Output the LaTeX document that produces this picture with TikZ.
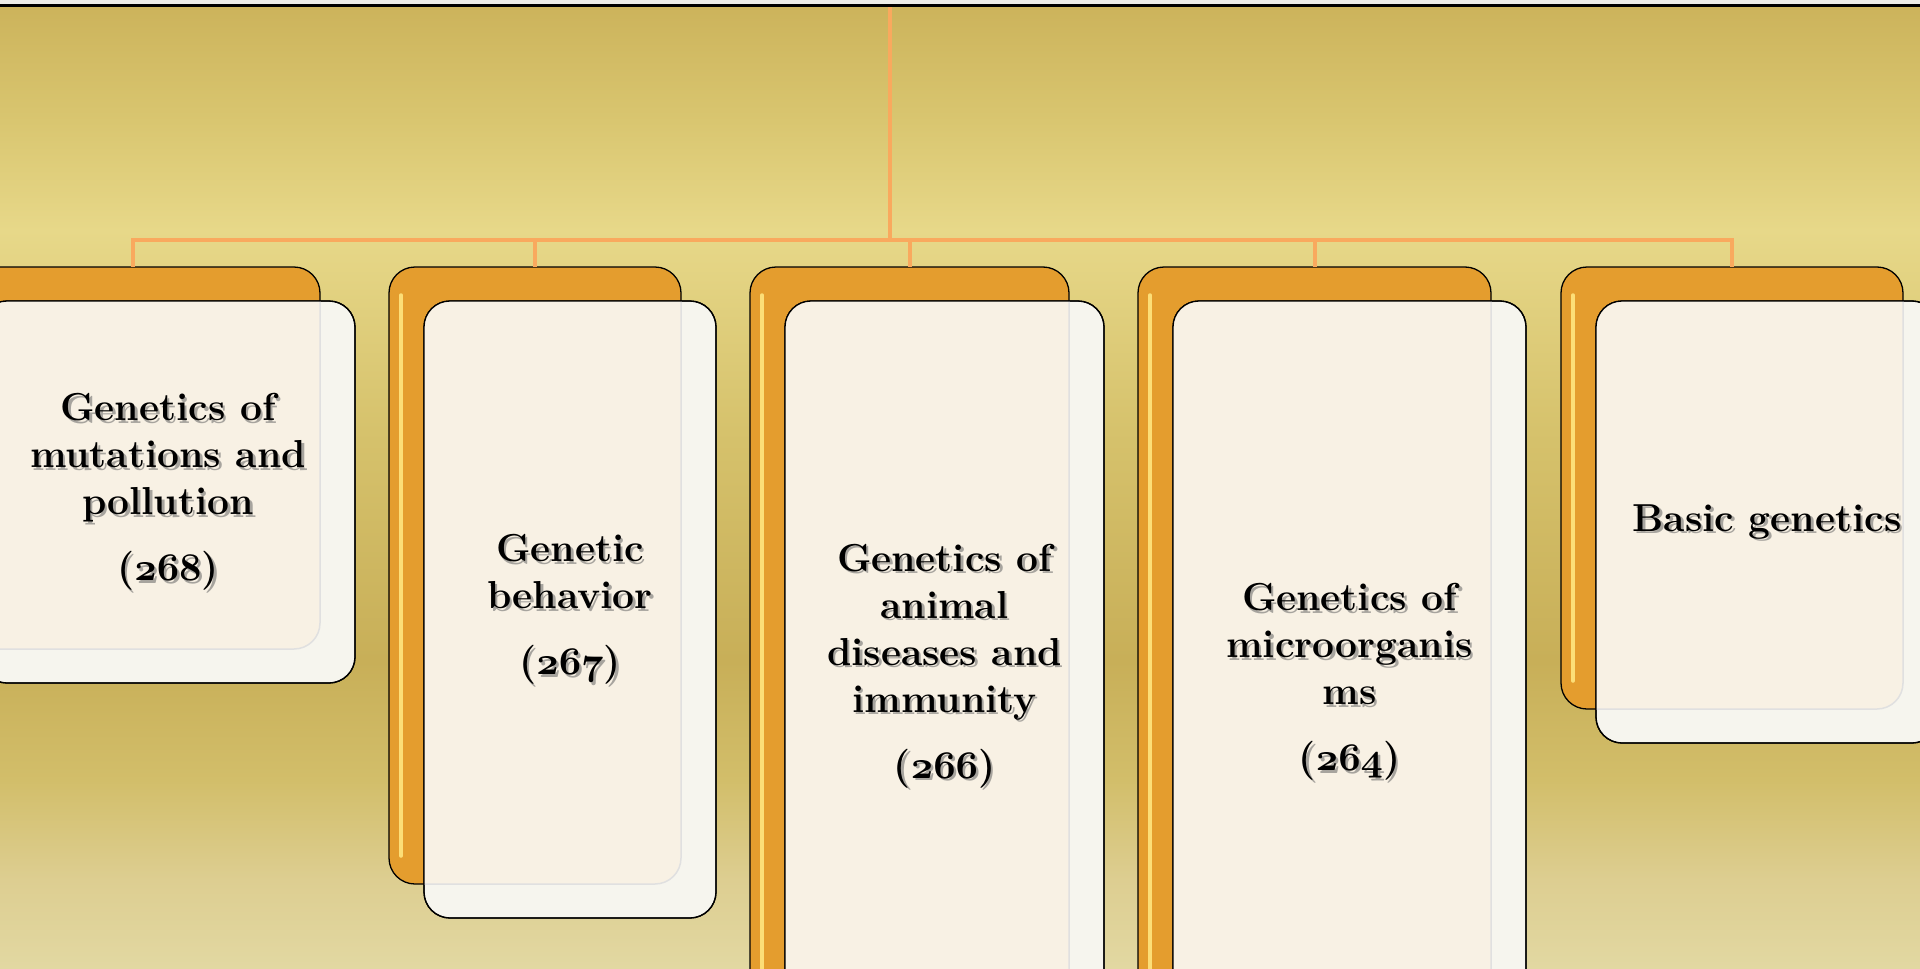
\documentclass[tikz,border=0pt]{standalone}
\usetikzlibrary{calc}
\definecolor{orangeF}{HTML}{E49D2E}
\definecolor{creamA}{HTML}{F8F1E4}
\definecolor{creamB}{HTML}{F6F5EE}
\definecolor{connc}{HTML}{F9A95E}
\definecolor{hilite}{HTML}{FFE680}
\definecolor{topband}{HTML}{EDEDE8}
\pgfdeclareverticalshading{bgshade}{100bp}{rgb(0bp)=(0.886,0.847,0.635); rgb(25bp)=(0.886,0.847,0.635); rgb(29.6bp)=(0.867,0.808,0.569); rgb(34.8bp)=(0.824,0.745,0.416); rgb(41bp)=(0.784,0.686,0.345); rgb(53bp)=(0.839,0.761,0.424); rgb(63.3bp)=(0.906,0.847,0.537); rgb(69bp)=(0.851,0.776,0.439); rgb(75bp)=(0.8,0.702,0.357); rgb(100bp)=(0.8,0.702,0.357)}
\DeclareFontFamily{OML}{cmmxb}{\skewchar\font'177}
\DeclareFontShape{OML}{cmmxb}{b}{it}{<->cmmib10}{}
\newcommand\osnum[1]{{\usefont{OML}{cmmxb}{b}{it}#1}}
\tikzset{
  backbox/.style={draw=black, line width=1.3pt, fill=orangeF, rounded corners=26pt, inner sep=0pt, outer sep=0pt},
  frontbox/.style={draw=black, line width=1.3pt, fill=creamB, rounded corners=26pt, inner sep=0pt, outer sep=0pt},
  lbl/.style={align=center, font=\fontsize{39}{47}\selectfont\bfseries, text=black, inner sep=0pt},
  lblshadow/.style={lbl, text=black!60, opacity=0.55},
  connline/.style={draw=connc, line width=4pt},
  gloss/.style={draw=hilite, line width=3.5pt, line cap=round, opacity=0.9},
  ghost/.style={draw=black!12, line width=1.5pt, rounded corners=26pt},
  frontedge/.style={draw=black, line width=1.3pt, rounded corners=26pt},
}
\newcommand\drawunit[6]{%
  \node[backbox, minimum width=#4pt, minimum height=#5pt] (o#1) at (#2,#3) {};
  \draw[gloss] ($(o#1.north west)+(12,28)$) -- ($(o#1.south west)+(12,-28)$);
  \node[frontbox, minimum width=#4pt, minimum height=#5pt] (c#1) at ($(o#1)+(35,34)$) {};
  \begin{scope}
    \clip[rounded corners=26pt] (c#1.south west) rectangle (c#1.north east);
    \fill[creamA, rounded corners=26pt] (o#1.south west) rectangle (o#1.north east);
    \draw[ghost] (o#1.south west) rectangle (o#1.north east);
  \end{scope}
  \draw[frontedge] (c#1.south west) rectangle (c#1.north east);
  \node[lblshadow] at ($(c#1)+(2.5,2.5)$) {#6};
  \node[lbl] (t#1) at (c#1) {#6};
}
\begin{document}
\begin{tikzpicture}[x=1pt,y=-1pt]
\useasboundingbox (0,0) rectangle (1920,969);
\clip (0,0) rectangle (1920,969);
\fill[topband] (0,0) rectangle (1920,6);
\shade[shading=bgshade] (0,5) rectangle (1920,969);
% connectors
\coordinate (root) at (890,5);
\coordinate (hub) at (890,240);
\draw[connline] (root) -- (hub);
\drawunit{1}{133}{458}{374}{382}{Genetics of\\mutations and\\pollution\\[19pt](\osnum{268})}
\drawunit{2}{535}{575.5}{292}{617}{Genetic\\behavior\\[19pt](\osnum{267})}
\drawunit{3}{909.5}{632}{319}{730}{Genetics of\\animal\\diseases and\\immunity\\[19pt](\osnum{266})}
\drawunit{4}{1314.5}{648}{353}{762}{Genetics of\\microorganis\\ms\\[19pt](\osnum{264})}
\drawunit{5}{1732}{488}{342}{442}{Basic genetics}
\foreach \i in {1,...,5} { \draw[connline] (hub) -| (o\i.north); }
\draw[line width=2.5pt] (0,5.5) -- (1920,5.5);
\end{tikzpicture}
\end{document}
